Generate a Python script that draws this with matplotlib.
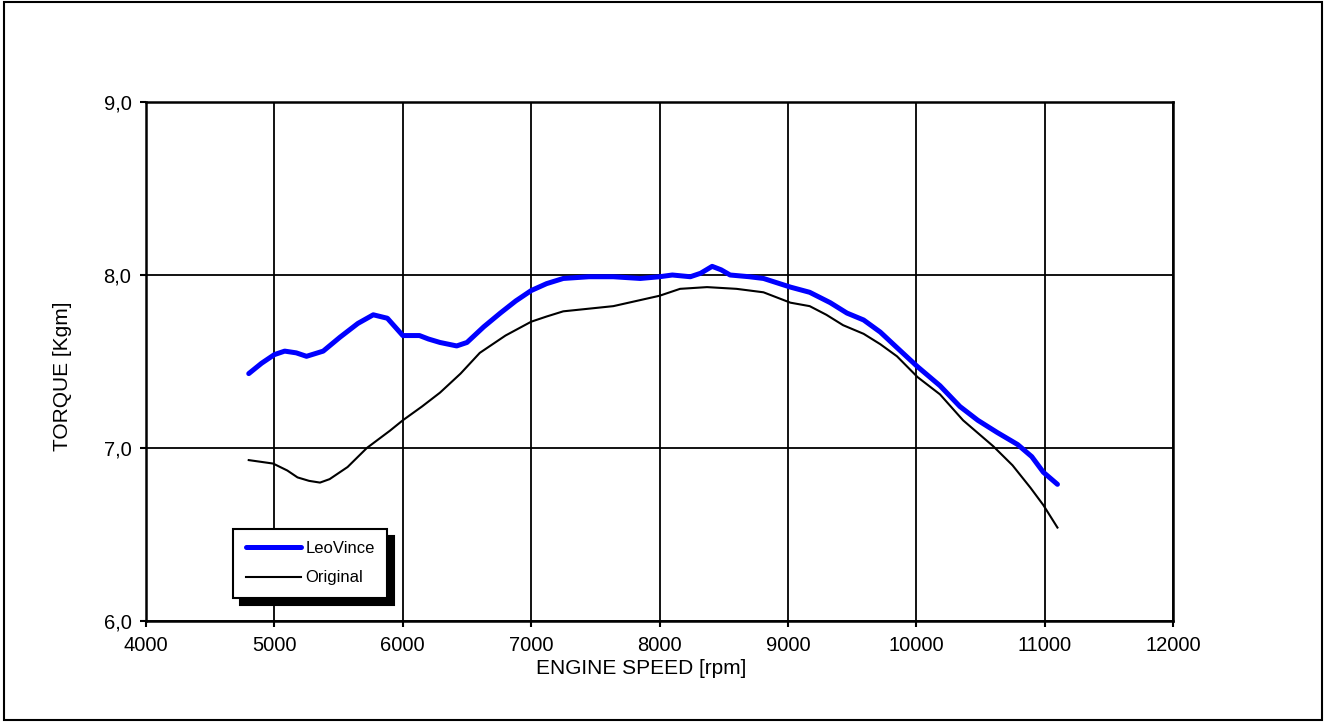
import matplotlib
matplotlib.use('Agg')
import matplotlib.pyplot as plt
from matplotlib.patches import Rectangle

plt.rcParams['font.family'] = ['Liberation Sans', 'DejaVu Sans']

# ---------------------------------------------------------------------------
# Data
# ---------------------------------------------------------------------------
leo_rpm = [4800, 4900, 5000, 5080, 5170, 5250, 5380, 5510, 5650, 5770,
           5880, 5940, 6000, 6130, 6200, 6290, 6420, 6500, 6630, 6760,
           6880, 7000, 7120, 7250, 7450, 7640, 7850, 8000, 8100, 8240,
           8320, 8410, 8480, 8550, 8700, 8810, 9020, 9170, 9330, 9460,
           9590, 9720, 9850, 10010, 10185, 10340, 10480, 10630, 10790,
           10900, 10990, 11100]
leo_torque = [7.43, 7.49, 7.54, 7.56, 7.55, 7.53, 7.56, 7.64, 7.72, 7.77,
              7.75, 7.70, 7.65, 7.65, 7.63, 7.61, 7.59, 7.61, 7.70, 7.78,
              7.85, 7.91, 7.95, 7.98, 7.99, 7.99, 7.98, 7.99, 8.00, 7.99,
              8.01, 8.05, 8.03, 8.00, 7.99, 7.98, 7.93, 7.90, 7.84, 7.78,
              7.74, 7.67, 7.58, 7.47, 7.36, 7.24, 7.16, 7.09, 7.02,
              6.95, 6.86, 6.79]

orig_rpm = [4800, 4990, 5100, 5180, 5270, 5355, 5430, 5570, 5720, 5900,
            6000, 6150, 6290, 6450, 6600, 6800, 7000, 7120, 7250, 7640,
            8000, 8160, 8370, 8600, 8810, 9020, 9170, 9300, 9430, 9590,
            9720, 9850, 10010, 10185, 10365, 10600, 10750, 10890,
            10990, 11100]
orig_torque = [6.93, 6.91, 6.87, 6.83, 6.81, 6.80, 6.82, 6.89, 7.00, 7.10,
               7.16, 7.24, 7.32, 7.43, 7.55, 7.65, 7.73, 7.76, 7.79, 7.82,
               7.88, 7.92, 7.93, 7.92, 7.90, 7.84, 7.82, 7.77, 7.71, 7.66,
               7.60, 7.53, 7.41, 7.31, 7.16, 7.01, 6.90, 6.77,
               6.67, 6.54]

x_ticks = [4000, 5000, 6000, 7000, 8000, 9000, 10000, 11000, 12000]
y_ticks = [6.0, 7.0, 8.0, 9.0]
y_tick_labels = ['6,0', '7,0', '8,0', '9,0']

# ---------------------------------------------------------------------------
# Figure
# ---------------------------------------------------------------------------
fig = plt.figure(figsize=(13.29, 7.23), dpi=100)
fig.patch.set_facecolor('white')
fig.patches.append(Rectangle((0.003, 0.004), 0.9917, 0.993,
                             transform=fig.transFigure, fill=False,
                             edgecolor='black', linewidth=1.5))

ax = fig.add_axes([0.1099, 0.1411, 0.7727, 0.7178])

ax.plot(leo_rpm, leo_torque, color='#0000ff', lw=3.6,
        solid_capstyle='round', solid_joinstyle='round', label='LeoVince', zorder=3)
ax.plot(orig_rpm, orig_torque, color='black', lw=1.5,
        solid_joinstyle='round', label='Original', zorder=3)

ax.set_xlim(4000, 12000)
ax.set_ylim(6.0, 9.0)
ax.set_xticks(x_ticks)
ax.set_xticklabels([str(t) for t in x_ticks])
ax.set_yticks(y_ticks)
ax.set_yticklabels(y_tick_labels)
ax.grid(True, color='black', lw=1.3)
ax.set_axisbelow(True)
for sp in ax.spines.values():
    sp.set_linewidth(1.8)
ax.tick_params(direction='out', length=4.5, width=1.5, labelsize=14.5, pad=6)

ax.set_xlabel('ENGINE SPEED [rpm]', fontsize=15)
ax.xaxis.set_label_coords(0.482, -0.073)
ax.set_ylabel('TORQUE [Kgm]', fontsize=15)
ax.yaxis.set_label_coords(-0.072, 0.472)

leg = ax.legend(loc='lower left', bbox_to_anchor=(0.0847, 0.0443),
                borderaxespad=0, fontsize=12, handlelength=3.3,
                handletextpad=0.3, labelspacing=0.85, borderpad=0.75,
                fancybox=False, framealpha=1, edgecolor='black',
                shadow={'ox': 5, 'oy': -5, 'color': 'black', 'alpha': 1})
leg.get_frame().set_linewidth(1.5)

plt.savefig('out.png', dpi=100, facecolor='white')
